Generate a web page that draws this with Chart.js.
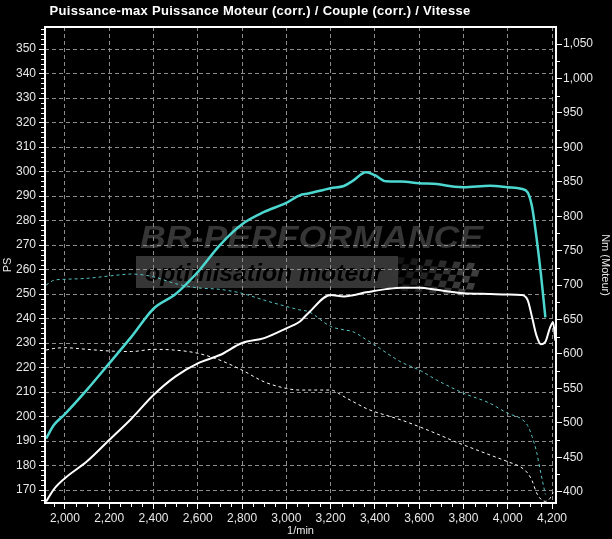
<!DOCTYPE html>
<html>
<head>
<meta charset="utf-8">
<title>Puissance / Couple</title>
<script src="https://cdn.jsdelivr.net/npm/chart.js@4.4.0/dist/chart.umd.min.js"></script>
<style>
  html, body { margin: 0; padding: 0; background: #000; }
  #wrap { width: 612px; height: 539px; }
</style>
</head>
<body>
<div id="wrap"><canvas id="dynoChart" width="612" height="539"></canvas></div>
<script>
// dyno printout, values
const chartTitle = 'Puissance-max Puissance Moteur (corr.) / Couple (corr.) / Vitesse';

const rpm = [1915, 1950, 2000, 2100, 2200, 2300, 2400, 2500, 2600, 2700, 2800, 2900, 3000, 3060, 3100, 3200, 3260, 3300, 3360, 3400, 3450, 3520, 3600, 3680, 3760, 3800, 3920, 4000, 4060, 4090, 4110, 4130, 4150, 4170, 4190, 4205, 4215];

// PS (left axis)
const psTuned = [191, 196.5, 201, 211, 221.7, 232.5, 244, 250, 259, 270, 278.5, 283.5, 287.2, 290.3, 291, 293.2, 294.1, 296.2, 299.7, 298.5, 296, 295.9, 295.2, 294.9, 293.8, 293.6, 294.2, 293.6, 293, 291.5, 285.5, 273, 258, 240.5, null, null, null];
const psStock = [165.3, 170.3, 174.8, 181.7, 190.4, 199.1, 208.8, 216.4, 221.7, 225.1, 230, 232, 236, 238.7, 242.3, 249.6, 249, 249.5, 250.7, 251.3, 252, 252.6, 252.6, 251.7, 250.7, 250.3, 250, 249.8, 249.6, 247.5, 240.5, 233, 229.5, 230.5, 236, 238.5, 231];

// Nm (right axis)
const nmTuned = [700, 707, 708.4, 709.8, 713.2, 716, 712, 702, 696, 693.8, 688, 678, 669, 664, 661.5, 640, 635, 632.5, 621, 613, 602, 588, 576.7, 562, 549, 543, 528.3, 513.8, 506, 496, 480, 458, 426, 396, null, null, null];
const nmStock = [605.7, 608, 609, 606.7, 604.3, 603.5, 606.7, 605.5, 601, 591, 576.5, 559.5, 550, 547.6, 547.6, 547.6, 538, 531, 521, 516, 511, 504, 494.4, 484, 473, 468, 453.3, 443.6, 435.5, 427, 416, 398.5, 389, 386, 390, 399, null];

const cyan = '#4cd8d0';
const gridGray = '#8c8c8c';
const tickFont = { family: '"Liberation Sans", Arial, sans-serif', size: 12 };

function thousands(v) {
    return Number(v).toLocaleString('en-US');
}

// black background + BR-PERFORMANCE watermark under the grid
const backdrop = {
    id: 'backdrop',
    beforeDraw(chart) {
        const ctx = chart.ctx;
        ctx.save();
        ctx.fillStyle = '#000';
        ctx.fillRect(0, 0, chart.width, chart.height);

        ctx.fillStyle = '#363636';
        ctx.font = 'italic bold 32px "Liberation Sans", Arial, sans-serif';
        const logo = 'BR-PERFORMANCE';
        const w = ctx.measureText(logo).width;
        ctx.save();
        ctx.translate(140, 248);
        ctx.scale(343 / w, 1);
        ctx.fillText(logo, 0, 0);
        ctx.restore();

        // grey band
        ctx.fillStyle = '#363636';
        ctx.fillRect(136, 256, 262, 32);

        // checkered flag
        ctx.save();
        ctx.translate(398, 257);
        ctx.transform(1, 0.08, -0.35, 1, 0, 0);
        for (let i = 0; i < 12; i++) {
            for (let j = 0; j < 5; j++) {
                if ((i + j) % 2 === 0) {
                    ctx.globalAlpha = Math.min(1, 0.3 + i * 0.07);
                    ctx.fillStyle = '#3e3e3e';
                    ctx.fillRect(i * 7, j * 6.5, 7, 6.5);
                }
            }
        }
        ctx.restore();

        ctx.fillStyle = '#000';
        ctx.font = 'italic bold 24px "Liberation Sans", Arial, sans-serif';
        const sub = 'optimisation moteur';
        const sw = ctx.measureText(sub).width;
        ctx.save();
        ctx.translate(145, 281);
        ctx.scale(238 / sw, 1);
        ctx.fillText(sub, 0, 0);
        ctx.restore();
        ctx.restore();
    }
};

// frame, minor ticks and title
const frame = {
    id: 'frame',
    afterDraw(chart) {
        const ctx = chart.ctx;
        const a = chart.chartArea;
        const sx = chart.scales.x, sy = chart.scales.y, sy1 = chart.scales.y1;
        ctx.save();
        ctx.strokeStyle = '#fff';
        ctx.lineWidth = 1;
        ctx.beginPath();
        for (let v = 1950; v <= sx.max; v += 50) {
            if (v % 200 === 0) continue;
            const px = Math.round(sx.getPixelForValue(v)) + 0.5;
            ctx.moveTo(px, a.bottom); ctx.lineTo(px, a.bottom + 4);
        }
        for (let v = 166; v <= sy.max; v += 2) {
            if (v % 10 === 0) continue;
            const py = Math.round(sy.getPixelForValue(v)) + 0.5;
            ctx.moveTo(a.left - 4, py); ctx.lineTo(a.left, py);
        }
        for (let v = 400; v <= sy1.max; v += 25) {
            if (v % 50 === 0) continue;
            const py = Math.round(sy1.getPixelForValue(v)) + 0.5;
            ctx.moveTo(a.right, py); ctx.lineTo(a.right + 4, py);
        }
        ctx.stroke();

        ctx.lineWidth = 2;
        ctx.strokeRect(a.left, a.top, a.right - a.left, a.bottom - a.top);

        ctx.fillStyle = '#fff';
        ctx.font = 'bold 13px "Liberation Sans", Arial, sans-serif';
        ctx.letterSpacing = '0.3px';
        ctx.textAlign = 'center';
        ctx.textBaseline = 'middle';
        ctx.fillText(chartTitle, 260, 11);
        ctx.restore();
    }
};

function makeDataset(label, values, axis, color, width, dash) {
    return {
        label: label,
        data: values,
        yAxisID: axis,
        borderColor: color,
        borderWidth: width,
        borderDash: dash,
        pointRadius: 0,
        fill: false,
        spanGaps: false,
        cubicInterpolationMode: 'monotone'
    };
}

document.addEventListener('DOMContentLoaded', () => {
    const ctx = document.getElementById('dynoChart').getContext('2d');
    new Chart(ctx, {
        type: 'line',
        data: {
            labels: rpm,
            datasets: [
                makeDataset('Puissance (préparé)', psTuned, 'y', cyan, 2.5, []),
                makeDataset('Puissance (origine)', psStock, 'y', '#ffffff', 2, []),
                makeDataset('Couple (préparé)', nmTuned, 'y1', '#56c4c4', 1, [3, 3]),
                makeDataset('Couple (origine)', nmStock, 'y1', '#ffffff', 1, [3, 3])
            ]
        },
        options: {
            responsive: false,
            animation: false,
            devicePixelRatio: 1,
            layout: { padding: { top: 27, left: 0, right: 0, bottom: 0 } },
            plugins: {
                legend: { display: false },
                title: { display: false },
                tooltip: { enabled: false }
            },
            scales: {
                x: {
                    type: 'linear',
                    min: 1910,
                    max: 4218,
                    afterFit: (s) => { s.height = 36; },
                    border: { display: false, dash: [4, 3] },
                    grid: { color: gridGray, lineWidth: 1, tickColor: '#fff', tickLength: 6 },
                    ticks: {
                        stepSize: 200,
                        includeBounds: false,
                        autoSkip: false,
                        maxRotation: 0,
                        color: '#e8e8e8',
                        font: tickFont,
                        padding: 2,
                        callback: (v) => thousands(v)
                    },
                    title: {
                        display: true,
                        text: '1/min',
                        color: '#e8e8e8',
                        font: { family: tickFont.family, size: 11 },
                        padding: { top: 0, bottom: 1 }
                    }
                },
                y: {
                    position: 'left',
                    min: 164.7,
                    max: 359,
                    afterFit: (s) => { s.width = 45; },
                    border: { display: false, dash: [4, 3] },
                    grid: { color: gridGray, lineWidth: 1, tickColor: '#fff', tickLength: 6 },
                    ticks: {
                        stepSize: 10,
                        includeBounds: false,
                        color: '#e8e8e8',
                        font: tickFont,
                        padding: 3
                    },
                    title: {
                        display: true,
                        text: 'PS',
                        color: '#e8e8e8',
                        font: { family: tickFont.family, size: 11 },
                        padding: { top: 1, bottom: 0 }
                    }
                },
                y1: {
                    position: 'right',
                    min: 383.6,
                    max: 1074.7,
                    afterFit: (s) => { s.width = 56; },
                    border: { display: false },
                    grid: { drawOnChartArea: false, tickColor: '#fff', tickLength: 6 },
                    ticks: {
                        stepSize: 50,
                        includeBounds: false,
                        color: '#e8e8e8',
                        font: tickFont,
                        padding: 1,
                        callback: (v) => thousands(v)
                    },
                    title: {
                        display: true,
                        text: 'Nm (Moteur)',
                        color: '#e8e8e8',
                        font: { family: tickFont.family, size: 11 },
                        padding: { top: 0, bottom: 4 }
                    }
                }
            }
        },
        plugins: [backdrop, frame]
    });
});
</script>
</body>
</html>
